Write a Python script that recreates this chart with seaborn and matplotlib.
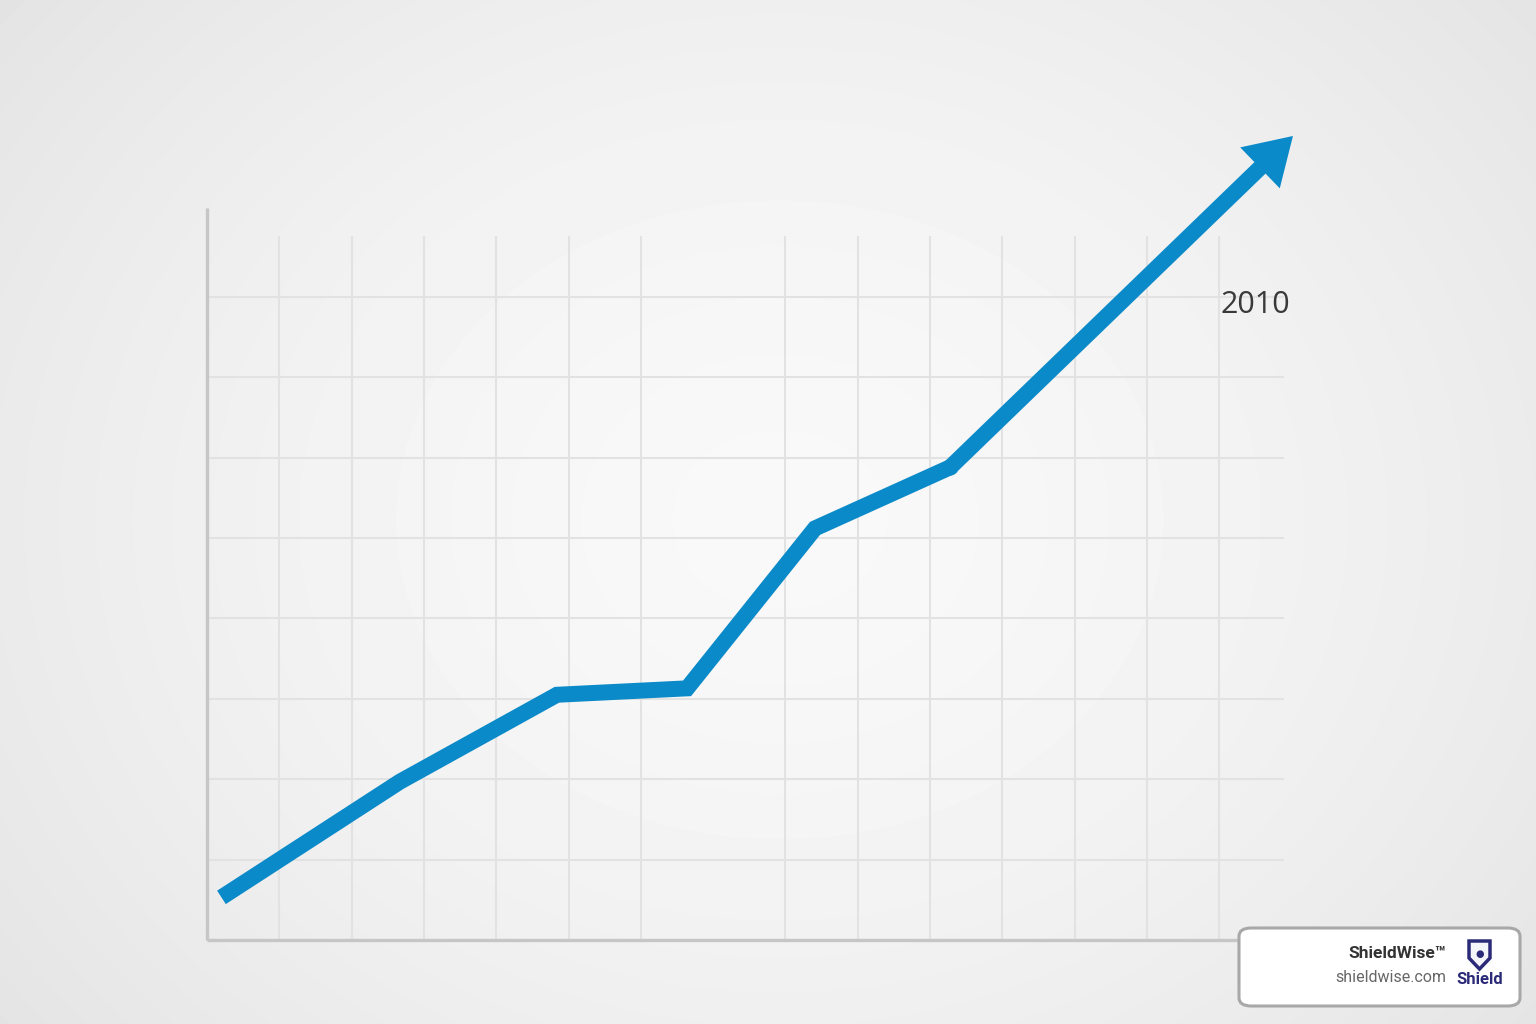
import numpy as np
import matplotlib.pyplot as plt
import seaborn as sns
from matplotlib.patches import FancyBboxPatch, Polygon

# data (grid units)
line_x = [0.2, 2.67, 4.84, 6.64, 8.41, 10.28]
line_y = [0.53, 1.97, 3.05, 3.13, 5.12, 5.88]
tip = (15.02, 10.0)
grid_x = [1, 2, 3, 4, 5, 6, 8, 9, 10, 11, 12, 13, 14]
grid_y = [1, 2, 3, 4, 5, 6, 7, 8]
label_text = "2010"

sns.set_theme(style="white")
plt.rcParams['font.family'] = ['Open Sans', 'DejaVu Sans']

fig = plt.figure(figsize=(15.36, 10.24), dpi=100)
ax = fig.add_axes([0, 0, 1, 1])
xlim = (-207 / 72.3, (1536 - 207) / 72.3)
ylim = (-84 / 80.4, 940 / 80.4)
ax.set_xlim(xlim)
ax.set_ylim(ylim)
ax.axis('off')

# radial background
xx, yy = np.meshgrid(np.linspace(0, 1536, 400), np.linspace(0, 1024, 300))
r = np.sqrt(((xx - 780) / 900) ** 2 + ((yy - 520) / 750) ** 2)
shade = 0.975 - 0.07 * np.clip(r, 0, 1.2) ** 1.6
ax.imshow(shade, cmap='gray', vmin=0, vmax=1, extent=(xlim[0], xlim[1], ylim[0], ylim[1]),
          origin='upper', aspect='auto', zorder=0, interpolation='bilinear')

# grid
ax.vlines(grid_x, 0, 8.76, color='#e2e2e2', lw=1.5, zorder=1)
ax.hlines(grid_y, 0, 14.9, color='#e2e2e2', lw=1.5, zorder=1)
ax.vlines(0, 0, 9.1, color='#c6c6c6', lw=2.4, zorder=2)
ax.hlines(0, 0, 15.2, color='#c6c6c6', lw=2.4, zorder=2)

blue = '#0a8ac9'
sns.lineplot(x=line_x, y=line_y, ax=ax, sort=False, estimator=None, color=blue,
             lw=11.5, solid_capstyle='butt', solid_joinstyle='miter', zorder=3)
ax.plot(line_x[-1:], line_y[-1:], 'o', color=blue, ms=11.5, mew=0, zorder=3)
ax.annotate('', xy=tip, xytext=(line_x[-1], line_y[-1]),
            arrowprops=dict(arrowstyle='simple,head_length=3.3,head_width=4.1,tail_width=1.15',
                            mutation_scale=10, color=blue, lw=0, shrinkA=0, shrinkB=0),
            zorder=3)

ax.text(14.5, 7.9, label_text, fontsize=22, color='#3a3a3a', ha='center', va='center', zorder=4)

# watermark box
fig.patches.append(FancyBboxPatch((1239 / 1536, 18 / 1024), 281 / 1536, 78 / 1024,
                                  boxstyle='round,pad=0,rounding_size=0.008',
                                  transform=fig.transFigure, facecolor='white',
                                  edgecolor='#a8a8a8', lw=2.2, zorder=10))
fig.text(1446 / 1536, 1 - 953 / 1024, 'ShieldWise™', fontsize=12.5, fontweight='bold',
         color='#333333', ha='right', va='center', family=['Roboto', 'DejaVu Sans'], zorder=11)
fig.text(1446 / 1536, 1 - 977 / 1024, 'shieldwise.com', fontsize=11.5, color='#666666',
         ha='right', va='center', family=['Roboto', 'DejaVu Sans'], zorder=11)
shield = np.array([[1469, 941], [1490, 941], [1490, 958], [1479.5, 969], [1469, 958]])
fig.patches.append(Polygon(np.column_stack([shield[:, 0] / 1536, 1 - shield[:, 1] / 1024]),
                           closed=True, transform=fig.transFigure, facecolor='#f4f4fb',
                           edgecolor='#2b2a78', lw=2.5, zorder=11))
fig.text(1479.5 / 1536, 1 - 955 / 1024, '●', fontsize=7, color='#2b2a78', ha='center',
         va='center', zorder=12)
fig.text(1479.5 / 1536, 1 - 980 / 1024, 'Shield', fontsize=12, fontweight='bold',
         color='#2b2a78', ha='center', va='center', family=['Roboto', 'DejaVu Sans'], zorder=11)

fig.savefig('out.png', dpi=100)
